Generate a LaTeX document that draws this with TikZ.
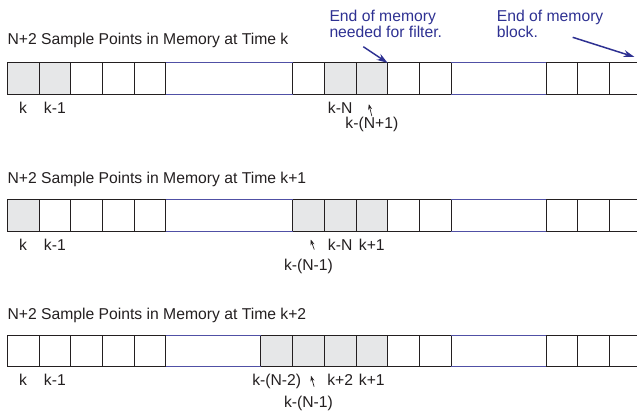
\documentclass[tikz,border=0pt]{standalone}
\usepackage{fontspec}
\setmainfont{Liberation Sans}
\usetikzlibrary{arrows.meta,positioning}
\definecolor{inkgray}{RGB}{35,31,32}
\definecolor{noteblue}{RGB}{46,49,146}
\definecolor{gapblue}{RGB}{80,80,165}
\definecolor{cellfill}{RGB}{230,231,232}

\begin{document}
\begin{tikzpicture}[x=1pt, y=-1pt,
  cell/.style={rectangle, draw=inkgray, line width=0.9pt, minimum width=31.7pt, minimum height=31.7pt, inner sep=0pt, outer sep=0pt},
  shaded/.style={cell, fill=cellfill},
  title/.style={anchor=base west, inner sep=0pt, text=inkgray, font=\fontsize{15.7}{17}\selectfont},
  lbl/.style={inner sep=0pt, text=inkgray, text height=11.3pt, text depth=3.3pt, font=\fontsize{15.7}{17}\selectfont},
  note/.style={anchor=north west, align=left, inner sep=0pt, text=noteblue, font=\fontsize{15.7}{16.5}\selectfont},
  gapline/.style={draw=gapblue, line width=0.9pt},
  ptr/.style={-{Stealth[length=5.5pt, width=4pt]}, line width=0.7pt, draw=inkgray},
  bigarrow/.style={-{Stealth[length=11pt, width=7pt]}, line width=1.5pt, draw=noteblue}]
\clip (0,0) rectangle (637,412);

% memory at time k
\foreach \i in {2,3,4,9,12,13,17,18,19} \node[cell] (a\i) at (23.15+31.7*\i, 78.8) {};
\foreach \i in {0,1,10,11} \node[shaded] (a\i) at (23.15+31.7*\i, 78.8) {};
\draw[gapline] (a4.north east) -- (a9.north west) (a4.south east) -- (a9.south west)
  (a13.north east) -- (a17.north west) (a13.south east) -- (a17.south west);
\node[title] (t1) at ([yshift=18.6pt]a0.north west) {N+2 Sample Points in Memory at Time k};
\node[lbl, below=7.7pt of a0] (ak) {k};
\node[lbl, below=7.7pt of a1] (akm1) {k-1};
\node[lbl, below=7.7pt of a10] (akN) {k-N};
\node[lbl, below=22.5pt of a11] (akN1) {k-(N+1)};
\draw[ptr] ([yshift=1pt]akN1.north) -- ([xshift=-3pt, yshift=-9.5pt]a11.south);

\node[note] (need) at (329.3, 9.7) {End of memory\\needed for filter.};
\node[note] (blk) at (496.7, 9.7) {End of memory\\block.};
\coordinate (blkend) at ([xshift=9pt, yshift=6pt]a19.north);
\draw[bigarrow] ([xshift=34pt, yshift=-37pt]need.north west) -- (a11.north east);
\draw[bigarrow] ([xshift=76pt, yshift=-27.6pt]blk.north west) -- (blkend);

% memory at time k+1
\foreach \i in {1,2,3,4,12,13,17,18,19} \node[cell] (b\i) at (23.15+31.7*\i, 215.2) {};
\foreach \i in {0,9,10,11} \node[shaded] (b\i) at (23.15+31.7*\i, 215.2) {};
\draw[gapline] (b4.north east) -- (b9.north west) (b4.south east) -- (b9.south west)
  (b13.north east) -- (b17.north west) (b13.south east) -- (b17.south west);
\node[title] (t2) at ([yshift=15.4pt]b0.north west) {N+2 Sample Points in Memory at Time k+1};
\node[lbl, below=7.7pt of b0] (bk) {k};
\node[lbl, below=7.7pt of b1] (bkm1) {k-1};
\node[lbl, below=7.7pt of b10] (bkN) {k-N};
\node[lbl, below=7.7pt of b11] (bkp1) {k+1};
\node[lbl, below=28pt of b9] (bN1) {k-(N-1)};
\draw[ptr] ([xshift=5.8pt, yshift=9.5pt]bN1.north) -- ([xshift=2.3pt, yshift=-8.5pt]b9.south);

% memory at time k+2
\foreach \i in {0,1,2,3,4,12,13,17,18,19} \node[cell] (c\i) at (23.15+31.7*\i, 350.9) {};
\foreach \i in {8,9,10,11} \node[shaded] (c\i) at (23.15+31.7*\i, 350.9) {};
\draw[gapline] (c4.north east) -- (c8.north west) (c4.south east) -- (c8.south west)
  (c13.north east) -- (c17.north west) (c13.south east) -- (c17.south west);
\node[title] (t3) at ([yshift=15.7pt]c0.north west) {N+2 Sample Points in Memory at Time k+2};
\node[lbl, below=7.7pt of c0] (ck) {k};
\node[lbl, below=7.7pt of c1] (ckm1) {k-1};
\node[lbl, below=7.7pt of c8] (ckN2) {k-(N-2)};
\node[lbl, below=7.7pt of c10] (ckp2) {k+2};
\node[lbl, below=7.7pt of c11] (ckp1) {k+1};
\node[lbl, below=29pt of c9] (cN1) {k-(N-1)};
\draw[ptr] ([xshift=5.7pt, yshift=9pt]cN1.north) -- ([xshift=2.5pt, yshift=-9pt]c9.south);
\end{tikzpicture}
\end{document}
